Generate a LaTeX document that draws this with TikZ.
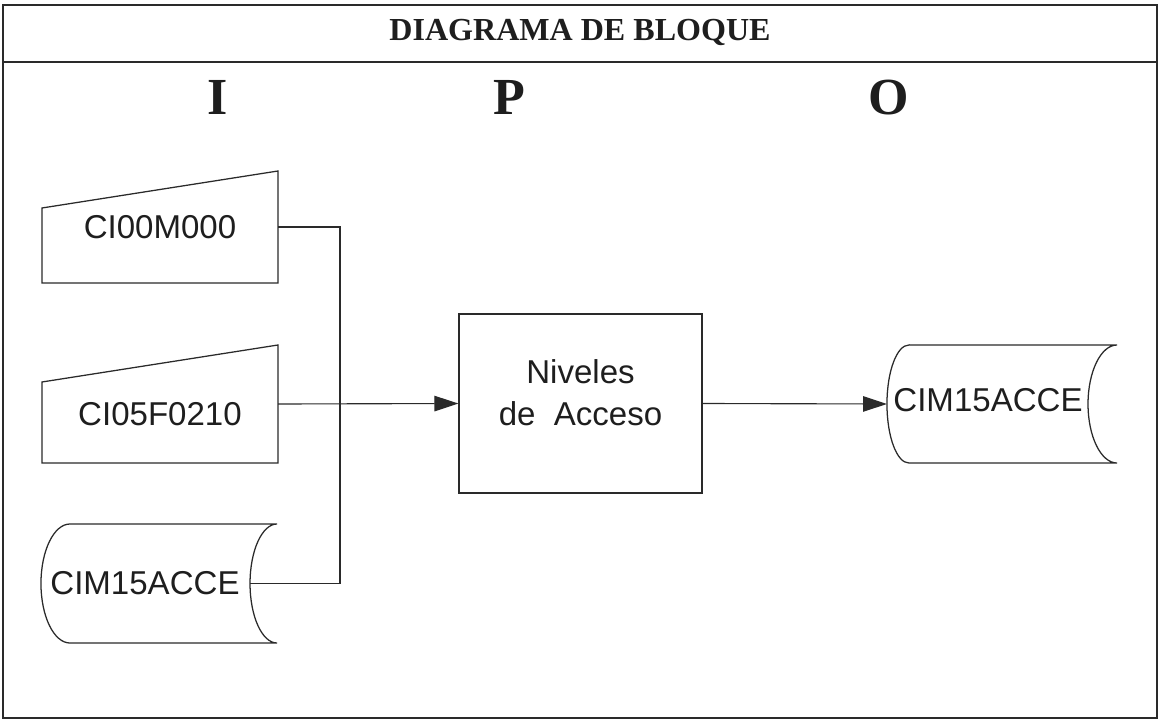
\documentclass[tikz,border=0pt]{standalone}
\usepackage{fontspec}
\setmainfont{Liberation Serif}
\setsansfont{Liberation Sans}
\usetikzlibrary{positioning,arrows.meta,calc}
\definecolor{dbLine}{HTML}{2A2A2A}
\definecolor{dbText}{HTML}{1E1E1E}
\tikzset{
  frame/.style={draw=dbLine, line width=1.3pt},
  outline/.style={draw=dbLine, line width=0.9pt},
  shapebox/.style={
    minimum width=#1, inner sep=0pt, outer sep=0pt},
  shapebox/.default=5.9cm,
  txt/.style={font=\sffamily\fontsize{23.5}{32}\selectfont, text=dbText, align=center},
  ipo/.style={font=\fontsize{37}{40}\selectfont\bfseries, text=dbText, anchor=base},
  dbtitle/.style={font=\fontsize{22.8}{27}\selectfont\bfseries, text=dbText, anchor=base},
  link/.style={draw=dbLine, line width=0.8pt},
  arrowlink/.style={link, -{Triangle[length=17pt, width=11pt]}},
}

\begin{document}
\begin{tikzpicture}[x=0.025cm, y=-0.025cm]
\useasboundingbox (0,0) rectangle (1160,723);

% marco y titulo
\draw[frame] (3,5) rectangle (1157,718);
\draw[frame] (3,62) -- (1157,62);
\node[dbtitle] (titulo) at (580,40) {DIAGRAMA DE BLOQUE};

\node[ipo] (colI) at (218,114) {I};
\node[ipo] (colP) at (509,114) {P};
\node[ipo] (colO) at (889,114) {O};

% entradas
\node[shapebox, minimum height=2.8cm,
      label={[txt]center:CI00M000}] (in1) at (160,227) {};
\node[shapebox, minimum height=2.95cm,
      label={[txt, yshift=-0.25cm]center:CI05F0210}] (in2) at (160,404) {};
\node[shapebox, minimum height=2.975cm,
      label={[txt, xshift=-0.35cm]center:CIM15ACCE}] (st1) at (159,583.5) {};

% proceso
\node[draw=dbLine, line width=0.9pt, minimum width=6.075cm, minimum height=4.475cm,
      inner sep=0pt, label={[txt, yshift=0.28cm]center:Niveles\\[-2pt]de\ \ Acceso}]
      (proc) at (580.5,403.5) {};

% salida
\node[shapebox=5.75cm, minimum height=2.95cm,
      label={[txt, xshift=-0.35cm, yshift=0.1cm]center:CIM15ACCE}] (st2) at (1002,404) {};

% contornos
\foreach \n in {in1,in2}
  \draw[outline] (\n.south west) -- (\n.south east) -- (\n.north east)
    -- ($(\n.north west)+(0,-0.925cm)$) -- cycle;

\foreach \n/\dl/\dr/\ry in {st1/0.725cm/0.675cm/1.4875cm, st2/0.55cm/0.725cm/1.475cm}
  \draw[outline] ($(\n.north west)+(\dl,0)$) -- (\n.north east)
    arc[start angle=90, end angle=270, x radius=\dr, y radius=\ry]
    -- ($(\n.south west)+(\dl,0)$)
    arc[start angle=270, end angle=90, x radius=\dl, y radius=\ry] -- cycle;

% conexiones
\coordinate (bus) at (340,404);
\coordinate (st1in) at ($(st1.east)+(-0.675cm,0)$);
\draw[link] (in1.east) -| (bus);
\draw[link] (st1in) -| (bus);
\draw[arrowlink] (in2.east) -- (proc.west);
\draw[arrowlink] (proc.east) -- (st2.west);

\end{tikzpicture}
\end{document}
